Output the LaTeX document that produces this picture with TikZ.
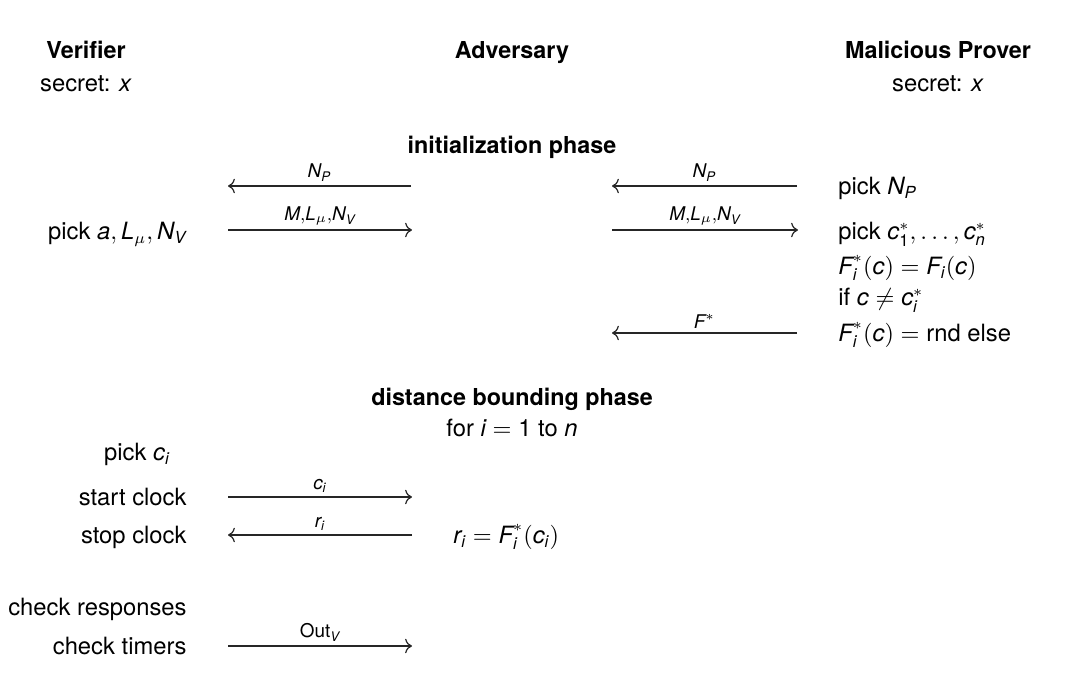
\documentclass[tikz,border=0pt]{standalone}
\usepackage{amsmath}
\usepackage{fontspec}
\setmainfont{TeX Gyre Heros}
\usetikzlibrary{arrows.meta}
\newcommand\iv[1]{\textit{#1}}
\newcommand\tn[1]{\textnormal{#1}}
\begin{document}
\begin{tikzpicture}[x=0.45pt,y=-0.45pt,
  txt/.style={font=\fontsize{10.7}{12.8}\selectfont, inner sep=0pt, text height=0.75em, text depth=0.22em, yshift=-1.2pt},
  hd/.style={txt, font=\fontsize{10.5}{12.6}\selectfont\bfseries},
  lt/.style={txt, anchor=east},
  rt/.style={txt, anchor=west},
  lbl/.style={font=\fontsize{8.5}{10}\selectfont, inner sep=1.8pt, above},
  msg/.style={-{To[scale=1.1]}, line width=0.55pt, draw=black!85}]
\useasboundingbox (0,0) rectangle (1071,681);
% headers
\node[hd] (ver) at (86,50) {Verifier};
\node[txt] (vsec) at (86,83) {secret: \textit{x}};
\node[hd] (adv) at (512,50) {Adversary};
\node[hd] (mp) at (938,50) {Malicious Prover};
\node[txt] (psec) at (938,83) {secret: \textit{x}};
% initialization phase
\node[hd] (init) at (512,145) {initialization phase};
\coordinate (a1r) at (411,186); \coordinate (a1l) at (228,186);
\coordinate (a2l) at (228,230); \coordinate (a2r) at (412,230);
\coordinate (b1r) at (797,186); \coordinate (b1l) at (612,186);
\coordinate (b2l) at (612,230); \coordinate (b2r) at (798,230);
\coordinate (b3r) at (797,333); \coordinate (b3l) at (612,333);
\draw[msg] (a1r) -- node[lbl] (l1) {$\iv{N}_{\iv{P}}$} (a1l);
\draw[msg] (a2l) -- node[lbl] (l2) {$\iv{M}{,}\iv{L}_\mu{,}\iv{N}_{\iv{V}}$} (a2r);
\draw[msg] (b1r) -- node[lbl] (l3) {$\iv{N}_{\iv{P}}$} (b1l);
\draw[msg] (b2l) -- node[lbl] (l4) {$\iv{M}{,}\iv{L}_\mu{,}\iv{N}_{\iv{V}}$} (b2r);
\draw[msg] (b3r) -- node[lbl] (l5) {$\iv{F}^*$} (b3l);
\node[lt] (pa) at (187,231) {pick $\iv{a}, \iv{L}_\mu, \iv{N}_{\iv{V}}$};
\node[rt] (pn) at (838,186) {pick $\iv{N}_{\iv{P}}$};
\node[rt] (pc) at (838,231) {pick $\iv{c}_{\tn{1}}^*, \ldots, \iv{c}_{\iv{n}}^*$};
\node[rt] (f1) at (838,266) {$\iv{F}_{\iv{i}}^*(\iv{c}) = \iv{F}_{\iv{i}}(\iv{c})$};
\node[rt] (f2) at (838,297) {if $\iv{c} \neq \iv{c}_{\iv{i}}^*$};
\node[rt] (f3) at (838,333) {$\iv{F}_{\iv{i}}^*(\iv{c}) = \tn{rnd else}$};
% distance bounding phase
\node[hd] (dbp) at (512,397) {distance bounding phase};
\node[txt] (for) at (512,428) {for $\iv{i} = \tn{1}$ to $\iv{n}$};
\node[txt] (pci) at (137,452) {pick $\iv{c}_{\iv{i}}$};
\node[lt] (sc) at (187,497) {start clock};
\node[lt] (stc) at (187,535) {stop clock};
\coordinate (c1l) at (228,497); \coordinate (c1r) at (412,497);
\coordinate (c2r) at (412,535); \coordinate (c2l) at (228,535);
\draw[msg] (c1l) -- node[lbl] (l6) {$\iv{c}_{\iv{i}}$} (c1r);
\draw[msg] (c2r) -- node[lbl] (l7) {$\iv{r}_{\iv{i}}$} (c2l);
\node[rt] (ri) at (453,535) {$\iv{r}_{\iv{i}} = \iv{F}_{\iv{i}}^*(\iv{c}_{\iv{i}})$};
\node[lt] (cr) at (187,607) {check responses};
\node[lt] (ct) at (187,646) {check timers};
\coordinate (d1l) at (228,646); \coordinate (d1r) at (412,646);
\draw[msg] (d1l) -- node[lbl] (l8) {$\tn{Out}_{\iv{V}}$} (d1r);
\end{tikzpicture}
\end{document}
